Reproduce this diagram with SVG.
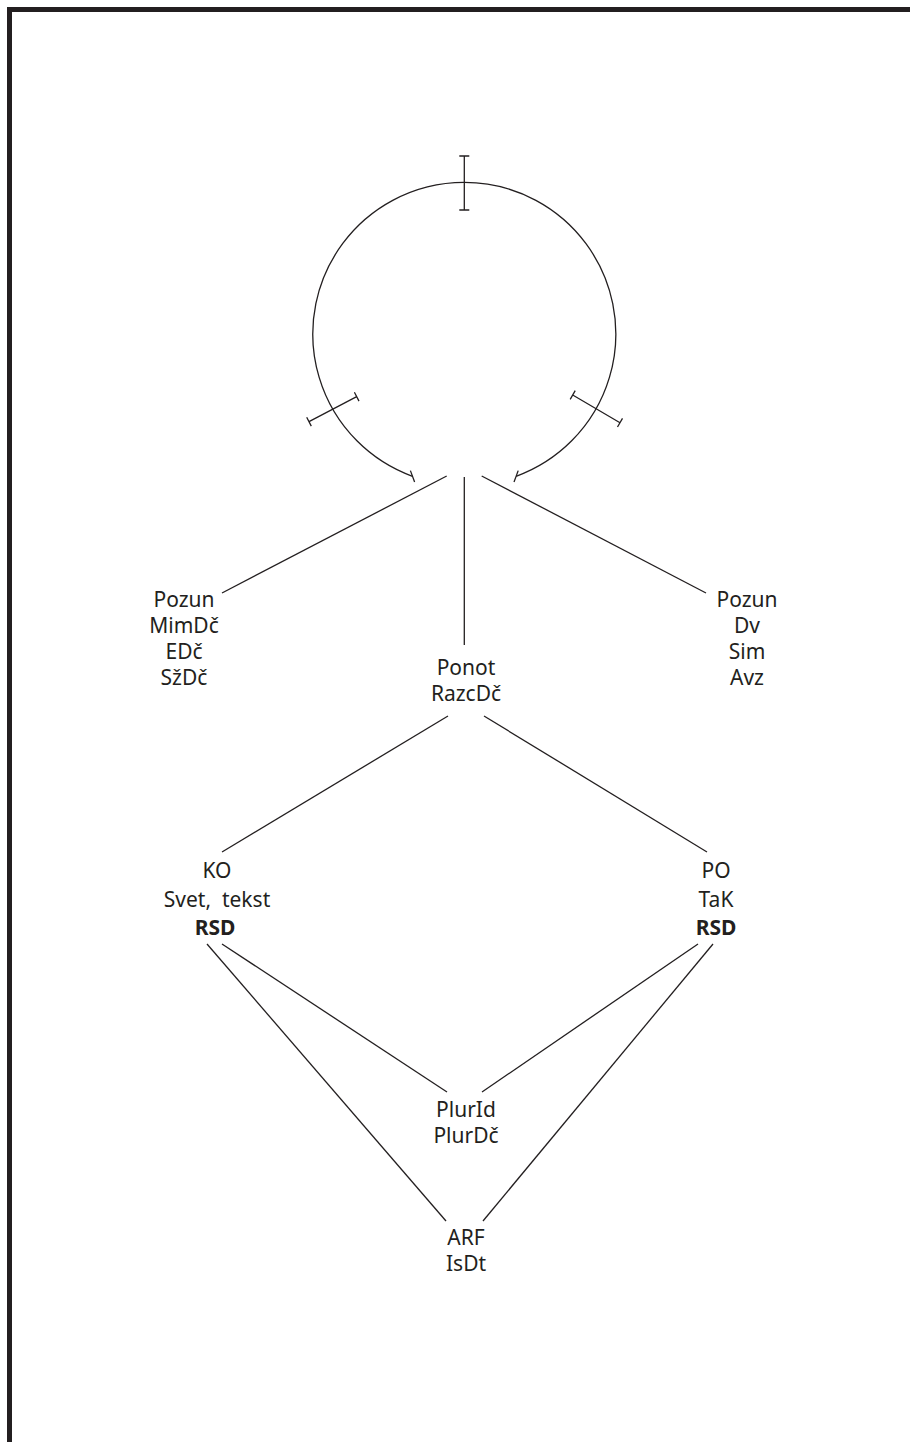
<svg xmlns="http://www.w3.org/2000/svg" width="910" height="1442" viewBox="0 0 910 1442">
<style>
.t{font-family:"Noto Sans","DejaVu Sans",sans-serif;font-size:21px;fill:#231f20;text-anchor:middle}
.b{font-weight:bold}
.l{stroke:#231f20;stroke-width:1.3;fill:none}
</style>
<rect x="0" y="0" width="910" height="1442" fill="#fff"/>
<rect x="9.5" y="9.5" width="920" height="1460" fill="none" stroke="#231f20" stroke-width="5"/>
<g id="cycle">
<path class="l" d="M412.5 476.3 A151.5 151.5 0 1 1 516.1 476.3"/>
<path class="l" d="M464.3 156 V210 M459.3 156 H469.3 M459.3 210 H469.3"/>
<path class="l" d="M309 421.7 L356.7 396.7 M306.7 417.3 L311.3 426.1 M354.4 392.3 L359 401.1"/>
<path class="l" d="M572.7 395 L620 422.7 M570.2 399.3 L575.2 390.7 M617.5 427 L622.5 418.4"/>
<path class="l" d="M410.4 470.6 L414.6 482"/>
<path class="l" d="M518.2 470.6 L514 482"/>
</g>
<g id="connectors">
<line class="l" x1="446.7" y1="476" x2="222" y2="593"/>
<line class="l" x1="464.3" y1="477" x2="464.3" y2="645"/>
<line class="l" x1="481.7" y1="476" x2="706" y2="593"/>
<line class="l" x1="448" y1="716" x2="222" y2="852"/>
<line class="l" x1="484" y1="716" x2="707" y2="852"/>
<line class="l" x1="222" y1="944" x2="447" y2="1092"/>
<line class="l" x1="207" y1="944" x2="446" y2="1221"/>
<line class="l" x1="698" y1="944" x2="482" y2="1092"/>
<line class="l" x1="713" y1="944" x2="483" y2="1221"/>
</g>
<g id="left">
<text class="t" x="184" y="607">Pozun<tspan x="184" dy="26">MimDč</tspan><tspan x="184" dy="26">EDč</tspan><tspan x="184" dy="26">SžDč</tspan></text>
</g>
<g id="center">
<text class="t" x="466" y="675">Ponot<tspan x="466" dy="26">RazcDč</tspan></text>
</g>
<g id="right">
<text class="t" x="747" y="607">Pozun<tspan x="747" dy="26">Dv</tspan><tspan x="747" dy="26">Sim</tspan><tspan x="747" dy="26">Avz</tspan></text>
</g>
<g id="ko">
<text class="t" x="217" y="878" xml:space="preserve">KO<tspan x="217" dy="29">Svet,  tekst</tspan><tspan class="b" x="215" dy="28">RSD</tspan></text>
</g>
<g id="po">
<text class="t" x="716" y="878">PO<tspan x="716" dy="29">TaK</tspan><tspan class="b" x="716" dy="28">RSD</tspan></text>
</g>
<g id="plur">
<text class="t" x="466" y="1117">PlurId<tspan x="466" dy="26">PlurDč</tspan></text>
</g>
<g id="arf">
<text class="t" x="466" y="1245">ARF<tspan x="466" dy="26">IsDt</tspan></text>
</g>
</svg>
